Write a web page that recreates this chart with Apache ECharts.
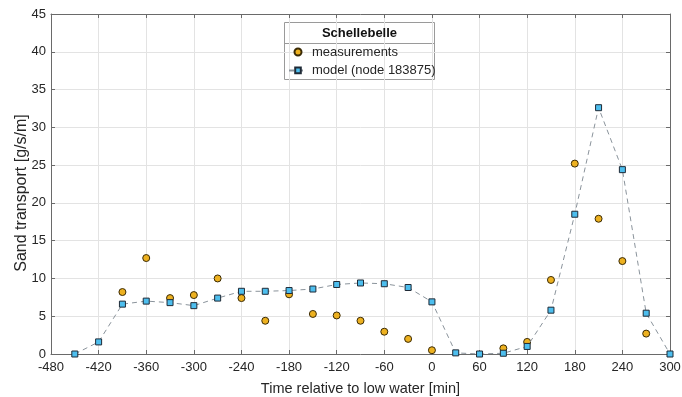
<!DOCTYPE html>
<html>
<head>
<meta charset="utf-8">
<script src="https://cdn.jsdelivr.net/npm/echarts@6/dist/echarts.min.js"></script>
<style>
  html, body { margin: 0; padding: 0; background: #fff; }
  #chart { width: 682px; height: 397px; }
</style>
</head>
<body>
<div id="chart"></div>
<script>
// time relative to low water [min]
const modelTime = [-450, -420, -390, -360, -330, -300, -270, -240, -210, -180, -150, -120, -90, -60, -30, 0, 30, 60, 90, 120, 150, 180, 210, 240, 270, 300]
const modelValues = [0, 1.6, 6.6, 7.0, 6.8, 6.4, 7.4, 8.3, 8.3, 8.4, 8.6, 9.2, 9.4, 9.3, 8.8, 6.9, 0.15, 0, 0.1, 1.0, 5.8, 18.5, 32.6, 24.4, 5.4, 0]

const measTime = [-390, -360, -330, -300, -270, -240, -210, -180, -150, -120, -90, -60, -30, 0, 90, 120, 150, 180, 210, 240, 270]
const measValues = [8.2, 12.7, 7.4, 7.8, 10.0, 7.4, 4.4, 7.9, 5.3, 5.1, 4.4, 2.95, 2.0, 0.5, 0.75, 1.6, 9.8, 25.2, 17.9, 12.3, 2.7]

const COLORS = {
  meas:      '#EDB120',
  model:     '#4DBEEE',
  edge:      '#1f2a36',
  line:      '#8a939b',
  axis:      '#262626',
  axisLine:  '#6a6a6a',
  grid:      '#e3e3e3',
}

const chart = echarts.init(document.getElementById('chart'), null, { renderer: 'canvas' })
const font = 'Arial, "Liberation Sans", sans-serif'

// the box round the plot: the mirrored axes only draw line + inward ticks
const mirror = {
  axisLine: { show: true, onZero: false, lineStyle: { color: COLORS.axisLine, width: 1 } },
  axisTick: { show: true, inside: true, length: 4, lineStyle: { color: COLORS.axisLine } },
  axisLabel: { show: false },
  splitLine: { show: false },
}

chart.setOption({
  animation: false,
  backgroundColor: '#fff',
  textStyle: { fontFamily: font },
  grid: { left: 51, right: 12, top: 14, bottom: 43, outerBoundsMode: 'none', containLabel: false },
  xAxis: [
    {
      type: 'value',
      min: -480, max: 300, interval: 60,
      name: 'Time relative to low water [min]',
      nameLocation: 'middle', nameGap: 27,
      nameTextStyle: { color: COLORS.axis, fontSize: 14.5, fontFamily: font },
      axisLine: { show: true, onZero: false, lineStyle: { color: COLORS.axisLine, width: 1 } },
      axisTick: { show: true, inside: true, length: 4, lineStyle: { color: COLORS.axisLine } },
      axisLabel: { color: COLORS.axis, fontSize: 13, margin: 7, fontFamily: font },
      splitLine: { show: true, lineStyle: { color: COLORS.grid, width: 1 } },
    },
    { type: 'value', position: 'top', min: -480, max: 300, interval: 60, ...mirror },
  ],
  yAxis: [
    {
      type: 'value',
      min: 0, max: 45, interval: 5,
      axisLine: { show: true, onZero: false, lineStyle: { color: COLORS.axisLine, width: 1 } },
      axisTick: { show: true, inside: true, length: 4, lineStyle: { color: COLORS.axisLine } },
      axisLabel: { color: COLORS.axis, fontSize: 13, margin: 5, fontFamily: font },
      splitLine: { show: true, lineStyle: { color: COLORS.grid, width: 1 } },
    },
    { type: 'value', position: 'right', min: 0, max: 45, interval: 5, ...mirror },
  ],
  legend: {
    left: 288, top: 45, padding: 0,
    orient: 'vertical',
    itemWidth: 18, itemHeight: 7, itemGap: 4.4,
    textStyle: { color: COLORS.axis, fontSize: 13, lineHeight: 14, fontFamily: font },
    data: ['measurements', 'model (node 183875)'],
  },
  graphic: [
    // y axis title (sits a little below the middle of the axis, as in the original)
    { type: 'text', x: 21.5, y: 193, rotation: Math.PI / 2, style: { text: 'Sand transport [g/s/m]', fontSize: 16, fill: COLORS.axis, align: 'center', verticalAlign: 'middle', fontFamily: font }, silent: true },
    // legend box with title
    { type: 'rect', shape: { x: 284.5, y: 22.5, width: 150, height: 57 }, style: { fill: '#fff', stroke: '#9a9a9a', lineWidth: 1 }, z: 0, silent: true },
    { type: 'line', shape: { x1: 284.5, y1: 43.5, x2: 434.5, y2: 43.5 }, style: { stroke: '#9a9a9a', lineWidth: 1 }, z: 0, silent: true },
    { type: 'text', x: 359.5, y: 33, style: { text: 'Schellebelle', fontSize: 13, fontWeight: 'bold', fill: '#111', align: 'center', verticalAlign: 'middle', fontFamily: font }, z: 1, silent: true },
  ],
  series: [
    {
      name: 'model (node 183875)',
      type: 'line',
      data: modelTime.map((t, i) => [t, modelValues[i]]),
      symbol: 'rect', symbolSize: 6,
      lineStyle: { color: COLORS.line, width: 1, type: [5, 4] },
      itemStyle: { color: COLORS.model, borderColor: COLORS.edge, borderWidth: 1 },
      z: 3,
    },
    {
      name: 'measurements',
      type: 'scatter',
      data: measTime.map((t, i) => [t, measValues[i]]),
      symbol: 'circle', symbolSize: 7,
      itemStyle: { color: COLORS.meas, borderColor: '#3a2a05', borderWidth: 1, opacity: 1 },
      z: 2,
    },
  ],
})
</script>
</body>
</html>
